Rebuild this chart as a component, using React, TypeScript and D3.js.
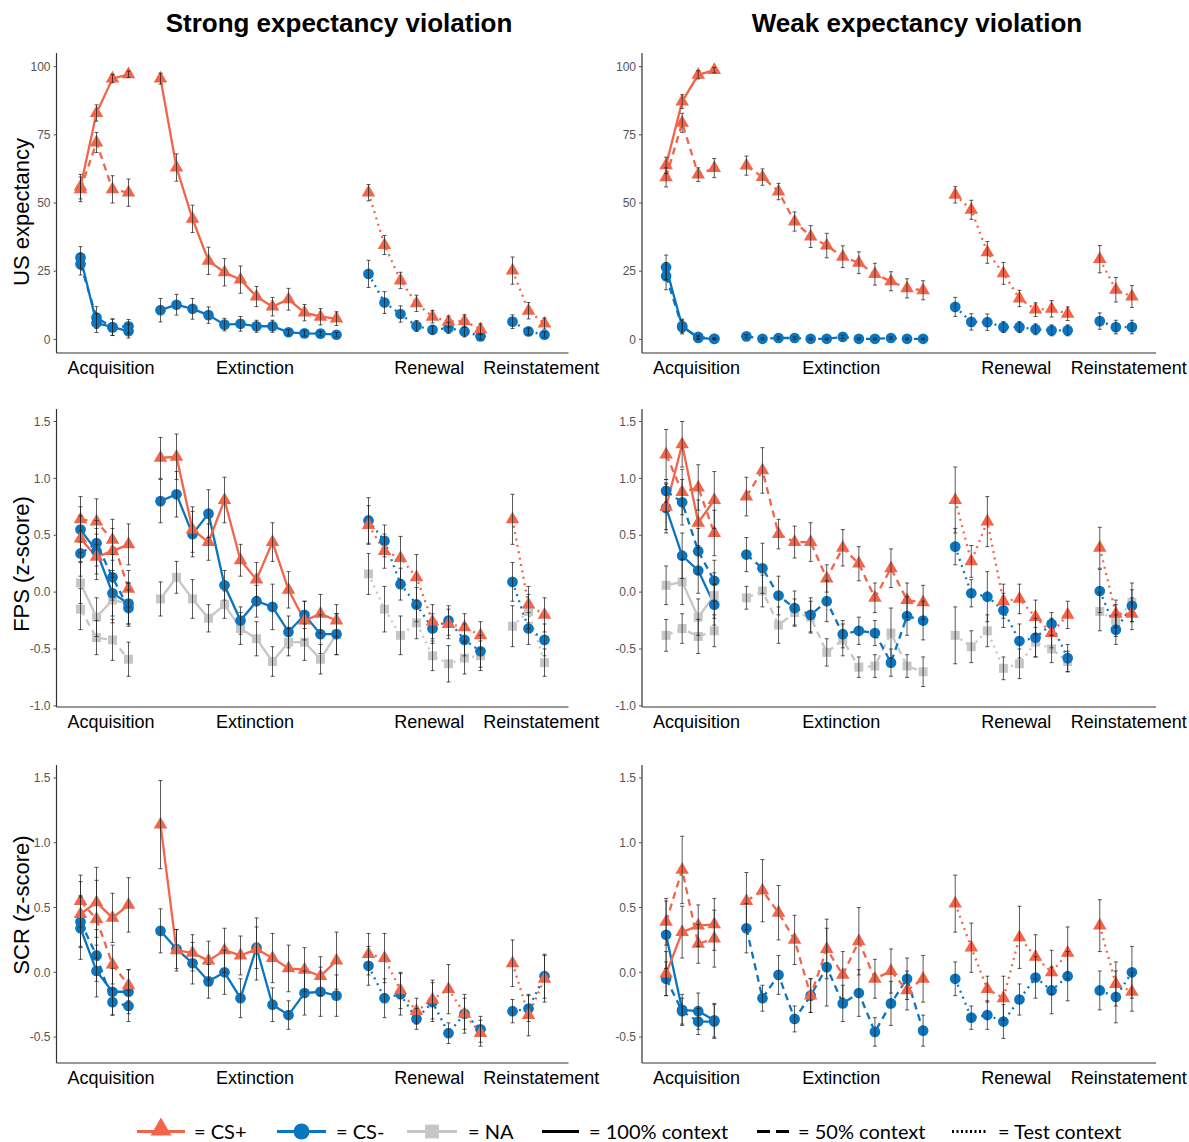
import React from 'react';
import * as d3 from 'd3';

// trial positions on the x axis (gaps between phases)
const acqTrials = [1, 2, 3, 4];
const extTrials = [6, 7, 8, 9, 10, 11, 12, 13, 14, 15, 16, 17];
const renTrials = [19, 20, 21, 22, 23, 24, 25, 26];
const reiTrials = [28, 29, 30];

const phaseLabels = ['Acquisition', 'Extinction', 'Renewal', 'Reinstatement'];
const phaseLabelPos = [2.9, 11.9, 22.8, 29.8];

const usTicks = [0, 25, 50, 75, 100];
const fpsTicks = [-1, -0.5, 0, 0.5, 1, 1.5];
const scrTicks = [-0.5, 0, 0.5, 1, 1.5];

const columnTitles = ['Strong expectancy violation', 'Weak expectancy violation'];
const rowLabels = ['US expectancy', 'FPS (z-score)', 'SCR (z-score)'];

// each entry: [mean, se]
// ---- US expectancy, strong
const usSAcqPlus100 = [[56, 4.5], [83, 3], [95.6, 1.5], [97.2, 1.2]];
const usSAcqPlus50 = [[55, 4.5], [72.2, 3.7], [55, 5], [53.8, 5]];
const usSAcqMinus100 = [[30, 4], [6, 3.5], [4.5, 3], [3, 2.5]];
const usSAcqMinus50 = [[27.6, 4], [8, 4], [4.4, 3], [4.8, 2.5]];
const usSExtPlus = [[95.6, 2], [63, 5], [44.2, 5], [28.8, 5], [24.6, 5], [21.9, 5], [15.7, 3.7], [12, 3.4], [14.7, 4], [9.8, 3], [8.3, 3], [7.6, 2.5]];
const usSExtMinus = [[10.7, 4.3], [12.7, 3.8], [11.2, 3.8], [8.9, 3], [5.4, 2.3], [5.7, 2.7], [4.8, 2.2], [4.8, 2.2], [2.6, 1], [2.2, 1], [2.1, 0.8], [1.7, 0.8]];
const usSRenPlus = [[53.8, 3], [34.6, 3.5], [21.6, 3], [13.2, 3], [8.3, 2.3], [6.5, 2], [6.7, 2.3], [3.7, 2]];
const usSRenMinus = [[24, 5], [13.5, 4], [9.3, 3], [4.9, 2], [3.5, 1.5], [4.2, 2], [2.9, 2], [1.1, 1]];
const usSReiPlus = [[25.2, 5], [10.5, 3], [5.8, 2]];
const usSReiMinus = [[6.5, 2.5], [2.9, 1.2], [1.7, 1]];

// ---- US expectancy, weak
const usWAcqPlus100 = [[63.8, 3], [87.2, 2.5], [97, 1.5], [98.7, 1]];
const usWAcqPlus50 = [[59.4, 3.5], [79.4, 3.5], [60.4, 2.5], [62.8, 3.5]];
const usWAcqMinus100 = [[26.4, 4.5], [4.9, 2.5], [0.5, 0.6], [0.2, 0.3]];
const usWAcqMinus50 = [[23.2, 5], [4.5, 2.5], [0.9, 0.6], [0.2, 0.3]];
const usWExtPlus = [[63.7, 3.5], [59.5, 3], [54.2, 3], [43.2, 3.5], [37.7, 4], [34.4, 4.5], [30.3, 4], [28.1, 4], [23.9, 4], [21.3, 3.5], [18.7, 3.5], [18, 3.5]];
const usWExtMinus = [[1.1, 0.6], [0.2, 0.3], [0.5, 0.4], [0.5, 0.4], [0.2, 0.3], [0.2, 0.3], [0.9, 0.6], [0.2, 0.3], [0.2, 0.3], [0.5, 0.4], [0.2, 0.3], [0.2, 0.3]];
const usWRenPlus = [[53, 3], [47.5, 3.5], [31.9, 4], [24.2, 4], [15, 3], [10.9, 2.5], [11.2, 3], [9.4, 2.5]];
const usWRenMinus = [[11.9, 3.5], [6.4, 3], [6.3, 3], [4.5, 2], [4.5, 2], [3.7, 2], [3.3, 2], [3.3, 2]];
const usWReiPlus = [[29.4, 5], [18.2, 4.5], [15.7, 4]];
const usWReiMinus = [[6.7, 3], [4.5, 2.5], [4.5, 2.5]];

// ---- FPS, strong
const fpsSAcqPlus100 = [[0.47, 0.2], [0.31, 0.2], [0.36, 0.2], [0.42, 0.18]];
const fpsSAcqPlus50 = [[0.64, 0.2], [0.62, 0.2], [0.46, 0.18], [0.03, 0.16]];
const fpsSAcqMinus100 = [[0.55, 0.2], [0.36, 0.2], [-0.01, 0.2], [-0.1, 0.18]];
const fpsSAcqMinus50 = [[0.34, 0.2], [0.43, 0.2], [0.13, 0.2], [-0.14, 0.16]];
const fpsSAcqNa100 = [[0.08, 0.18], [-0.22, 0.17], [-0.07, 0.2], [-0.1, 0.18]];
const fpsSAcqNa50 = [[-0.15, 0.18], [-0.4, 0.15], [-0.42, 0.18], [-0.59, 0.15]];
const fpsSExtPlus = [[1.18, 0.18], [1.19, 0.2], [0.55, 0.2], [0.44, 0.16], [0.81, 0.2], [0.28, 0.14], [0.11, 0.15], [0.44, 0.17], [0.02, 0.16], [-0.25, 0.17], [-0.19, 0.17], [-0.25, 0.14]];
const fpsSExtMinus = [[0.8, 0.19], [0.86, 0.2], [0.51, 0.2], [0.69, 0.21], [0.06, 0.13], [-0.25, 0.12], [-0.08, 0.14], [-0.13, 0.2], [-0.35, 0.14], [-0.2, 0.12], [-0.37, 0.17], [-0.37, 0.18]];
const fpsSExtNa = [[-0.06, 0.15], [0.13, 0.14], [-0.06, 0.17], [-0.23, 0.12], [-0.11, 0.12], [-0.32, 0.14], [-0.41, 0.15], [-0.61, 0.13], [-0.44, 0.12], [-0.44, 0.16], [-0.59, 0.13], [-0.37, 0.18]];
const fpsSRenPlus = [[0.59, 0.17], [0.36, 0.15], [0.3, 0.19], [0.13, 0.2], [-0.26, 0.15], [-0.28, 0.13], [-0.31, 0.12], [-0.38, 0.12]];
const fpsSRenMinus = [[0.63, 0.2], [0.45, 0.14], [0.07, 0.14], [-0.11, 0.15], [-0.32, 0.13], [-0.25, 0.13], [-0.42, 0.14], [-0.52, 0.14]];
const fpsSRenNa = [[0.16, 0.18], [-0.15, 0.2], [-0.38, 0.17], [-0.27, 0.14], [-0.56, 0.13], [-0.63, 0.16], [-0.58, 0.14], [-0.56, 0.13]];
const fpsSReiPlus = [[0.64, 0.22], [-0.11, 0.16], [-0.2, 0.15]];
const fpsSReiMinus = [[0.09, 0.17], [-0.32, 0.14], [-0.42, 0.14]];
const fpsSReiNa = [[-0.3, 0.18], [-0.17, 0.15], [-0.62, 0.12]];

// ---- FPS, weak
const fpsWAcqPlus100 = [[0.75, 0.2], [1.3, 0.2], [0.61, 0.2], [0.81, 0.25]];
const fpsWAcqPlus50 = [[1.21, 0.22], [0.88, 0.2], [0.92, 0.2], [0.52, 0.2]];
const fpsWAcqMinus100 = [[0.74, 0.22], [0.32, 0.2], [0.19, 0.2], [-0.11, 0.18]];
const fpsWAcqMinus50 = [[0.89, 0.1], [0.79, 0.2], [0.36, 0.2], [0.1, 0.18]];
const fpsWAcqNa100 = [[0.06, 0.17], [0.09, 0.2], [-0.22, 0.16], [-0.03, 0.2]];
const fpsWAcqNa50 = [[-0.38, 0.14], [-0.32, 0.13], [-0.39, 0.15], [-0.34, 0.14]];
const fpsWExtPlus = [[0.84, 0.17], [1.07, 0.2], [0.51, 0.13], [0.44, 0.14], [0.44, 0.17], [0.12, 0.12], [0.39, 0.16], [0.25, 0.15], [-0.05, 0.13], [0.21, 0.17], [-0.07, 0.15], [-0.09, 0.15]];
const fpsWExtMinus = [[0.33, 0.15], [0.21, 0.22], [-0.03, 0.17], [-0.14, 0.15], [-0.2, 0.15], [-0.08, 0.18], [-0.37, 0.12], [-0.34, 0.12], [-0.36, 0.11], [-0.62, 0.12], [-0.21, 0.17], [-0.25, 0.17]];
const fpsWExtNa = [[-0.05, 0.1], [0.01, 0.14], [-0.29, 0.16], [-0.18, 0.12], [-0.22, 0.14], [-0.53, 0.12], [-0.42, 0.14], [-0.66, 0.09], [-0.65, 0.1], [-0.36, 0.22], [-0.65, 0.1], [-0.7, 0.13]];
const fpsWRenPlus = [[0.81, 0.29], [0.27, 0.14], [0.62, 0.22], [-0.08, 0.15], [-0.06, 0.13], [-0.22, 0.15], [-0.36, 0.13], [-0.2, 0.12]];
const fpsWRenMinus = [[0.4, 0.16], [-0.01, 0.12], [-0.04, 0.22], [-0.16, 0.15], [-0.43, 0.15], [-0.4, 0.17], [-0.28, 0.1], [-0.58, 0.12]];
const fpsWRenNa = [[-0.38, 0.25], [-0.48, 0.14], [-0.34, 0.14], [-0.67, 0.1], [-0.63, 0.13], [-0.44, 0.13], [-0.5, 0.12], [-0.61, 0.09]];
const fpsWReiPlus = [[0.39, 0.18], [-0.19, 0.12], [-0.19, 0.14]];
const fpsWReiMinus = [[0.01, 0.19], [-0.33, 0.13], [-0.12, 0.14]];
const fpsWReiNa = [[-0.17, 0.17], [-0.25, 0.14], [-0.09, 0.17]];

// ---- SCR, strong
const scrSAcqPlus100 = [[0.45, 0.25], [0.54, 0.27], [0.42, 0.19], [0.52, 0.21]];
const scrSAcqPlus50 = [[0.55, 0.2], [0.41, 0.3], [0.06, 0.15], [-0.1, 0.12]];
const scrSAcqMinus100 = [[0.34, 0.24], [0.01, 0.2], [-0.15, 0.18], [-0.15, 0.17]];
const scrSAcqMinus50 = [[0.39, 0.2], [0.13, 0.2], [-0.23, 0.1], [-0.26, 0.12]];
const scrSExtPlus = [[1.14, 0.34], [0.17, 0.16], [0.15, 0.14], [0.09, 0.15], [0.17, 0.17], [0.13, 0.15], [0.18, 0.24], [0.11, 0.19], [0.03, 0.18], [0.02, 0.17], [-0.03, 0.15], [0.09, 0.22]];
const scrSExtMinus = [[0.32, 0.17], [0.18, 0.15], [0.07, 0.16], [-0.07, 0.13], [0, 0.17], [-0.2, 0.15], [0.19, 0.16], [-0.25, 0.13], [-0.33, 0.11], [-0.16, 0.17], [-0.15, 0.19], [-0.18, 0.16]];
const scrSRenPlus = [[0.14, 0.16], [0.11, 0.19], [-0.14, 0.14], [-0.3, 0.1], [-0.21, 0.15], [-0.13, 0.19], [-0.32, 0.12], [-0.47, 0.1]];
const scrSRenMinus = [[0.05, 0.15], [-0.2, 0.15], [-0.17, 0.16], [-0.36, 0.08], [-0.23, 0.15], [-0.47, 0.08], [-0.32, 0.15], [-0.44, 0.1]];
const scrSReiPlus = [[0.07, 0.18], [-0.33, 0.16], [-0.05, 0.18]];
const scrSReiMinus = [[-0.3, 0.09], [-0.28, 0.1], [-0.03, 0.17]];

// ---- SCR, weak
const scrWAcqPlus100 = [[-0.01, 0.17], [0.31, 0.2], [0.36, 0.16], [0.37, 0.2]];
const scrWAcqPlus50 = [[0.39, 0.18], [0.79, 0.26], [0.22, 0.15], [0.26, 0.22]];
const scrWAcqMinus100 = [[0.29, 0.26], [-0.29, 0.12], [-0.3, 0.14], [-0.37, 0.13]];
const scrWAcqMinus50 = [[-0.05, 0.13], [-0.3, 0.1], [-0.38, 0.1], [-0.38, 0.13]];
const scrWExtPlus = [[0.55, 0.22], [0.63, 0.24], [0.46, 0.21], [0.25, 0.19], [-0.18, 0.13], [0.18, 0.23], [-0.02, 0.18], [0.24, 0.26], [-0.05, 0.15], [0.01, 0.17], [-0.14, 0.15], [-0.05, 0.18]];
const scrWExtMinus = [[0.34, 0.19], [-0.2, 0.1], [-0.02, 0.15], [-0.36, 0.1], [-0.18, 0.13], [0.04, 0.3], [-0.24, 0.14], [-0.16, 0.18], [-0.46, 0.11], [-0.24, 0.17], [-0.05, 0.16], [-0.45, 0.12]];
const scrWRenPlus = [[0.53, 0.22], [0.19, 0.19], [-0.13, 0.1], [-0.2, 0.17], [0.27, 0.24], [0.12, 0.17], [0, 0.17], [0.15, 0.2]];
const scrWRenMinus = [[-0.05, 0.13], [-0.35, 0.09], [-0.33, 0.11], [-0.38, 0.13], [-0.21, 0.12], [-0.04, 0.16], [-0.14, 0.18], [-0.03, 0.19]];
const scrWReiPlus = [[0.36, 0.2], [-0.09, 0.17], [-0.15, 0.15]];
const scrWReiMinus = [[-0.14, 0.15], [-0.19, 0.2], [0, 0.2]];

const colors: Record<string, string> = { plus: '#F3654A', minus: '#0B75BF', na: '#C6C6C6' };
const dashes: Record<string, string | undefined> = { solid: undefined, dashed: '7 5', dotted: '2 4.5' };

type Series = { stim: string; ctx: string; trials: number[]; data: number[][] };
const S = (stim: string, ctx: string, trials: number[], data: number[][]): Series => ({ stim, ctx, trials, data });

const panelSeries: Series[][][] = [
  [
    [
      S('minus', 'dashed', acqTrials, usSAcqMinus50), S('minus', 'solid', acqTrials, usSAcqMinus100),
      S('plus', 'dashed', acqTrials, usSAcqPlus50), S('plus', 'solid', acqTrials, usSAcqPlus100),
      S('minus', 'solid', extTrials, usSExtMinus), S('plus', 'solid', extTrials, usSExtPlus),
      S('minus', 'dotted', renTrials, usSRenMinus), S('plus', 'dotted', renTrials, usSRenPlus),
      S('minus', 'dotted', reiTrials, usSReiMinus), S('plus', 'dotted', reiTrials, usSReiPlus),
    ],
    [
      S('minus', 'dashed', acqTrials, usWAcqMinus50), S('minus', 'solid', acqTrials, usWAcqMinus100),
      S('plus', 'dashed', acqTrials, usWAcqPlus50), S('plus', 'solid', acqTrials, usWAcqPlus100),
      S('minus', 'dashed', extTrials, usWExtMinus), S('plus', 'dashed', extTrials, usWExtPlus),
      S('minus', 'dotted', renTrials, usWRenMinus), S('plus', 'dotted', renTrials, usWRenPlus),
      S('minus', 'dotted', reiTrials, usWReiMinus), S('plus', 'dotted', reiTrials, usWReiPlus),
    ],
  ],
  [
    [
      S('na', 'dashed', acqTrials, fpsSAcqNa50), S('na', 'solid', acqTrials, fpsSAcqNa100),
      S('minus', 'dashed', acqTrials, fpsSAcqMinus50), S('minus', 'solid', acqTrials, fpsSAcqMinus100),
      S('plus', 'dashed', acqTrials, fpsSAcqPlus50), S('plus', 'solid', acqTrials, fpsSAcqPlus100),
      S('na', 'solid', extTrials, fpsSExtNa), S('minus', 'solid', extTrials, fpsSExtMinus), S('plus', 'solid', extTrials, fpsSExtPlus),
      S('na', 'dotted', renTrials, fpsSRenNa), S('minus', 'dotted', renTrials, fpsSRenMinus), S('plus', 'dotted', renTrials, fpsSRenPlus),
      S('na', 'dotted', reiTrials, fpsSReiNa), S('minus', 'dotted', reiTrials, fpsSReiMinus), S('plus', 'dotted', reiTrials, fpsSReiPlus),
    ],
    [
      S('na', 'dashed', acqTrials, fpsWAcqNa50), S('na', 'solid', acqTrials, fpsWAcqNa100),
      S('minus', 'dashed', acqTrials, fpsWAcqMinus50), S('minus', 'solid', acqTrials, fpsWAcqMinus100),
      S('plus', 'dashed', acqTrials, fpsWAcqPlus50), S('plus', 'solid', acqTrials, fpsWAcqPlus100),
      S('na', 'dashed', extTrials, fpsWExtNa), S('minus', 'dashed', extTrials, fpsWExtMinus), S('plus', 'dashed', extTrials, fpsWExtPlus),
      S('na', 'dotted', renTrials, fpsWRenNa), S('minus', 'dotted', renTrials, fpsWRenMinus), S('plus', 'dotted', renTrials, fpsWRenPlus),
      S('na', 'dotted', reiTrials, fpsWReiNa), S('minus', 'dotted', reiTrials, fpsWReiMinus), S('plus', 'dotted', reiTrials, fpsWReiPlus),
    ],
  ],
  [
    [
      S('minus', 'dashed', acqTrials, scrSAcqMinus50), S('minus', 'solid', acqTrials, scrSAcqMinus100),
      S('plus', 'dashed', acqTrials, scrSAcqPlus50), S('plus', 'solid', acqTrials, scrSAcqPlus100),
      S('minus', 'solid', extTrials, scrSExtMinus), S('plus', 'solid', extTrials, scrSExtPlus),
      S('minus', 'dotted', renTrials, scrSRenMinus), S('plus', 'dotted', renTrials, scrSRenPlus),
      S('minus', 'dotted', reiTrials, scrSReiMinus), S('plus', 'dotted', reiTrials, scrSReiPlus),
    ],
    [
      S('minus', 'dashed', acqTrials, scrWAcqMinus50), S('minus', 'solid', acqTrials, scrWAcqMinus100),
      S('plus', 'dashed', acqTrials, scrWAcqPlus50), S('plus', 'solid', acqTrials, scrWAcqPlus100),
      S('minus', 'dashed', extTrials, scrWExtMinus), S('plus', 'dashed', extTrials, scrWExtPlus),
      S('minus', 'dotted', renTrials, scrWRenMinus), S('plus', 'dotted', renTrials, scrWRenPlus),
      S('minus', 'dotted', reiTrials, scrWReiMinus), S('plus', 'dotted', reiTrials, scrWReiPlus),
    ],
  ],
];

// layout
const W = 1189;
const H = 1142;
const cols = [{ x0: 56.5, x1: 568.5 }, { x0: 642, x1: 1156 }];
const rows = [
  { y0: 53, y1: 353, domain: [-5, 105], ticks: usTicks, fmt: (d: number) => String(d), labelY: 212 },
  { y0: 409, y1: 707, domain: [-1.01, 1.61], ticks: fpsTicks, fmt: (d: number) => d.toFixed(1), labelY: 564 },
  { y0: 765, y1: 1063, domain: [-0.7, 1.6], ticks: scrTicks, fmt: (d: number) => d.toFixed(1), labelY: 905 },
];
const titleX = [339, 917];
const sans = 'Liberation Sans, Arial, sans-serif';

const symbolPath = (stim: string, size: number) => {
  const type = stim === 'plus' ? d3.symbolTriangle : stim === 'minus' ? d3.symbolCircle : d3.symbolSquare;
  return d3.symbol().type(type).size(size)() as string;
};
const markerSize: Record<string, number> = { plus: 80, minus: 90, na: 80 };

const Panel = ({ r, c }: { r: number; c: number }) => {
  const col = cols[c];
  const row = rows[r];
  const x = d3.scaleLinear().domain([-0.5, 31.5]).range([col.x0, col.x1]);
  const y = d3.scaleLinear().domain(row.domain).range([row.y1, row.y0]);
  const series = panelSeries[r][c];
  const line = d3.line<number[]>().x((d) => x(d[0])).y((d) => y(d[1]));
  const pts = (s: Series) => s.trials.map((t, i) => [t, s.data[i][0], s.data[i][1]]);

  return (
    <g>
      {/* axes */}
      <line x1={col.x0} x2={col.x0} y1={row.y0} y2={row.y1} stroke="#333" strokeWidth={1.2} />
      <line x1={col.x0} x2={col.x1} y1={row.y1} y2={row.y1} stroke="#333" strokeWidth={1.2} />
      {row.ticks.map((t) => (
        <g key={t}>
          <line x1={col.x0 - 3} x2={col.x0} y1={y(t)} y2={y(t)} stroke="#555" strokeWidth={1} />
          <text x={col.x0 - 6} y={y(t)} dy="0.35em" textAnchor="end" fontFamily={sans} fontSize={12} fill="#555">
            {row.fmt(t)}
          </text>
        </g>
      ))}
      {phaseLabels.map((p, i) => (
        <text key={p} x={x(phaseLabelPos[i])} y={row.y1 + 20.5} textAnchor="middle" fontFamily={sans} fontSize={18} fill="#000">
          {p}
        </text>
      ))}
      {/* lines */}
      {series.map((s, i) => (
        <path key={'l' + i} d={line(pts(s)) as string} fill="none" stroke={colors[s.stim]} strokeWidth={2.3}
          strokeDasharray={dashes[s.ctx]} />
      ))}
      {/* points */}
      {series.map((s, i) =>
        pts(s).map((p, j) => (
          <path key={'p' + i + '-' + j} d={symbolPath(s.stim, markerSize[s.stim])}
            transform={`translate(${x(p[0])},${y(p[1])})`} fill={colors[s.stim]} />
        ))
      )}
      {/* error bars */}
      {series.map((s, i) =>
        pts(s).map((p, j) => {
          const cx = x(p[0]);
          const top = y(p[1] + p[2]);
          const bot = y(p[1] - p[2]);
          return (
            <g key={'e' + i + '-' + j} stroke="#222" strokeOpacity={0.75} strokeWidth={1}>
              <line x1={cx} x2={cx} y1={top} y2={bot} />
              <line x1={cx - 2} x2={cx + 2} y1={top} y2={top} />
              <line x1={cx - 2} x2={cx + 2} y1={bot} y2={bot} />
            </g>
          );
        })
      )}
    </g>
  );
};

const legendStims = [
  { stim: 'plus', label: '= CS+', x0: 137, x1: 185, tx: 194 },
  { stim: 'minus', label: '= CS-', x0: 277, x1: 326, tx: 336 },
  { stim: 'na', label: '= NA', x0: 407, x1: 457, tx: 468 },
];
const legendCtx = [
  { ctx: 'solid', label: '= 100% context', x0: 542, x1: 579, tx: 589 },
  { ctx: 'dashed', label: '= 50% context', x0: 757, x1: 789, tx: 798 },
  { ctx: 'dotted', label: '= Test context', x0: 952, x1: 986, tx: 998 },
];
const legendDash: Record<string, string | undefined> = { solid: undefined, dashed: '13 6', dotted: '2 2.5' };
const legendFont = 'Lato, "Open Sans", sans-serif';

export default function App() {
  const ly = 1131.5;
  return (
    <svg width={W} height={H} style={{ position: 'absolute', left: 0, top: 0, background: '#fff' }}>
      <rect width={W} height={H} fill="#fff" />
      {columnTitles.map((t, i) => (
        <text key={t} x={titleX[i]} y={32} textAnchor="middle" fontFamily={sans} fontWeight="bold" fontSize={26}>
          {t}
        </text>
      ))}
      {rowLabels.map((l, i) => (
        <text key={l} transform={`translate(29,${rows[i].labelY}) rotate(-90)`} textAnchor="middle" fontFamily={sans} fontSize={22}>
          {l}
        </text>
      ))}
      {rows.map((_, r) => cols.map((__, c) => <Panel key={r + '-' + c} r={r} c={c} />))}
      {/* legend */}
      {legendStims.map((d) => (
        <g key={d.stim}>
          <line x1={d.x0} x2={d.x1} y1={ly} y2={ly} stroke={colors[d.stim]} strokeWidth={3} />
          <path d={symbolPath(d.stim, d.stim === 'minus' ? 200 : 190)} transform={`translate(${(d.x0 + d.x1) / 2},${ly - (d.stim === 'plus' ? 2 : 0)})`}
            fill={colors[d.stim]} />
          <text x={d.tx} y={ly + 7} fontFamily={legendFont} fontSize={20}>{d.label}</text>
        </g>
      ))}
      {legendCtx.map((d) => (
        <g key={d.ctx}>
          <line x1={d.x0} x2={d.x1} y1={ly} y2={ly} stroke="#000" strokeWidth={3} strokeDasharray={legendDash[d.ctx]} />
          <text x={d.tx} y={ly + 7} fontFamily={legendFont} fontSize={20}>{d.label}</text>
        </g>
      ))}
    </svg>
  );
}
